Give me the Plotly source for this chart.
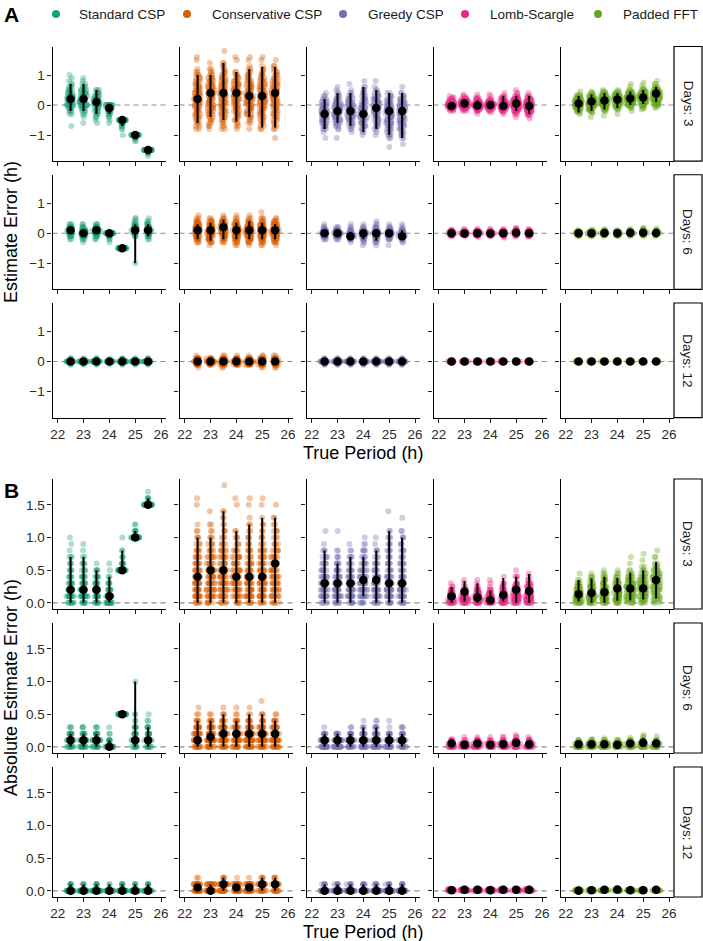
import plotly.graph_objects as go

W, H = 703, 941

# ---------------- data ----------------
periods = [22.5, 23, 23.5, 24, 24.5, 25, 25.5]
methods = ["Standard CSP", "Conservative CSP", "Greedy CSP", "Lomb-Scargle", "Padded FFT"]
colors = ["#1B9E77", "#D95F02", "#7570B3", "#E7298A", "#66A61E"]
days = [3, 6, 12]
x_ticks = [22, 23, 24, 25, 26]
a_ticks = [-1, 0, 1]
b_ticks = [0, 0.5, 1.0, 1.5]
b_ticktext = ["0.0", "0.5", "1.0", "1.5"]


def P(s):
    """value or value*count tokens -> list of observations"""
    out = []
    for tok in s.split():
        if "*" in tok:
            v, n = tok.split("*")
            out += [float(v)] * int(n)
        else:
            out.append(float(tok))
    return out


# signed estimate errors (h), per method -> per days -> per true period
err_standard = [
    ["-0.7 -0.3*2 -0.2*3 -0.1*5 0*8 0.1*8 0.2*8 0.3*6 0.4*5 0.5*4 0.6*3 0.7*2 0.8 0.9 1",
     "-0.6 -0.4 -0.3*2 -0.2*3 -0.1*5 0*7 0.1*8 0.2*8 0.3*6 0.4*5 0.5*4 0.6*3 0.7*2 0.8 0.9",
     "-0.6 -0.5 -0.4*2 -0.3*3 -0.2*4 -0.1*5 0*7 0.1*7 0.2*7 0.3*5 0.4*4 0.5*3",
     "-0.6 -0.5 -0.4*2 -0.3*4 -0.2*8 -0.1*14 0*16",
     "-1 -0.8*2 -0.7*3 -0.6*6 -0.5*30",
     "-1.2*2 -1.1*5 -1*35",
     "-1.7 -1.6*4 -1.5*35"],
    ["-0.2*2 -0.1*5 0*10 0.1*14 0.2*8 0.3*3",
     "-0.3 -0.2*3 -0.1*8 0*14 0.1*10 0.2*4 0.3*2",
     "-0.2*2 -0.1*5 0*10 0.1*14 0.2*8 0.3*3",
     "-0.3 -0.2*2 -0.1*6 0*30",
     "-0.5*40",
     "-1 -0.1*3 0*8 0.1*12 0.2*8 0.3*5 0.4*2 0.5*2",
     "-0.2*2 -0.1*4 0*9 0.1*12 0.2*8 0.3*5 0.4*2 0.5"],
    ["-0.1*2 0*30 0.1*3", "-0.1*2 0*30 0.1*2", "-0.1*2 0*30 0.1*3", "-0.1 0*30 0.1",
     "-0.1*2 0*30 0.1*3", "-0.1*2 0*30 0.1*2", "-0.1*2 0*30 0.1*3"],
]
err_conservative = [
    ["-0.8*2 -0.7*2 -0.6*3 -0.5*3 -0.4*4 -0.3*4 -0.2*5 -0.1*5 0*5 0.1*6 0.2*6 0.3*6 0.4*5 0.5*5 0.6*4 0.7*4 0.8*3 0.9*3 1*3 1.1*2 1.2 1.5 1.6",
     "-0.8 -0.7*2 -0.6*2 -0.5*3 -0.4*3 -0.3*4 -0.2*4 -0.1*5 0*5 0.1*5 0.2*6 0.3*6 0.4*6 0.5*6 0.6*5 0.7*5 0.8*4 0.9*4 1*3 1.1*2 1.2*2 1.4",
     "-0.8*2 -0.7*2 -0.6*2 -0.5*3 -0.4*3 -0.3*4 -0.2*4 -0.1*4 0*5 0.1*5 0.2*5 0.3*6 0.4*6 0.5*5 0.6*5 0.7*5 0.8*4 0.9*4 1*3 1.1*3 1.2*2 1.3*2 1.4*2 1.8",
     "-0.8 -0.7*2 -0.6*2 -0.5*3 -0.4*3 -0.3*4 -0.2*4 -0.1*5 0*5 0.1*5 0.2*6 0.3*6 0.4*6 0.5*6 0.6*5 0.7*5 0.8*4 0.9*3 1*3 1.1*2 1.5 1.6",
     "-0.8 -0.6*2 -0.5*2 -0.4*3 -0.3*4 -0.2*4 -0.1*5 0*5 0.1*6 0.2*6 0.3*6 0.4*6 0.5*5 0.6*5 0.7*4 0.8*4 0.9*3 1*3 1.1*2 1.2*2 1.3 1.5 1.6",
     "-0.8*2 -0.7*2 -0.6*2 -0.5*3 -0.4*3 -0.3*4 -0.2*4 -0.1*5 0*5 0.1*6 0.2*6 0.3*6 0.4*5 0.5*5 0.6*5 0.7*4 0.8*4 0.9*3 1*3 1.1*2 1.2*2 1.3 1.5 1.6",
     "-1.1 -0.8*2 -0.7*2 -0.6*2 -0.5*3 -0.4*3 -0.3*4 -0.2*4 -0.1*4 0*5 0.1*5 0.2*5 0.3*6 0.4*6 0.5*6 0.6*5 0.7*5 0.8*4 0.9*4 1*3 1.1*3 1.2*2 1.3*2 1.5"],
    ["-0.3*3 -0.2*6 -0.1*9 0*12 0.1*14 0.2*12 0.3*9 0.4*5 0.5*2 0.6",
     "-0.4 -0.3*4 -0.2*7 -0.1*10 0*12 0.1*14 0.2*11 0.3*8 0.4*5 0.5*2",
     "-0.3*3 -0.2*5 -0.1*8 0*10 0.1*12 0.2*14 0.3*11 0.4*7 0.5*3 0.6",
     "-0.4*2 -0.3*4 -0.2*7 -0.1*10 0*12 0.1*14 0.2*11 0.3*8 0.4*4 0.5*2 0.6",
     "-0.4 -0.3*4 -0.2*7 -0.1*10 0*12 0.1*14 0.2*11 0.3*8 0.4*5 0.5*2 0.6",
     "-0.4*2 -0.3*4 -0.2*7 -0.1*10 0*12 0.1*14 0.2*11 0.3*8 0.4*4 0.5*3 0.7",
     "-0.4 -0.3*4 -0.2*7 -0.1*10 0*12 0.1*14 0.2*11 0.3*8 0.4*5 0.5*2"],
    ["-0.2 -0.1*10 0*18 0.1*10 0.2",
     "-0.1*8 0*24 0.1*8",
     "-0.2*2 -0.1*12 0*14 0.1*12 0.2*2",
     "-0.1*10 0*20 0.1*10 0.2",
     "-0.1*10 0*20 0.1*10 0.2",
     "-0.2*2 -0.1*12 0*14 0.1*12 0.2*2",
     "-0.2*2 -0.1*12 0*14 0.1*12 0.2*2"],
]
err_greedy = [
    ["-1.1 -0.9 -0.8*3 -0.7*4 -0.6*5 -0.5*6 -0.4*7 -0.3*7 -0.2*7 -0.1*6 0*5 0.1*4 0.2*3 0.3*2 0.4",
     "-1.1 -0.8*2 -0.7*3 -0.6*4 -0.5*5 -0.4*6 -0.3*7 -0.2*7 -0.1*7 0*6 0.1*5 0.2*4 0.3*3 0.4*2 0.5 0.6",
     "-0.9 -0.8*2 -0.7*3 -0.6*4 -0.5*5 -0.4*6 -0.3*7 -0.2*7 -0.1*7 0*6 0.1*5 0.2*4 0.3*3 0.4*2 0.5 0.7",
     "-1 -0.9*2 -0.8*3 -0.7*4 -0.6*5 -0.5*5 -0.4*6 -0.3*7 -0.2*6 -0.1*6 0*5 0.1*4 0.2*4 0.3*3 0.4*3 0.5*2 0.6*2 0.8",
     "-1 -0.9 -0.8*2 -0.7*3 -0.6*4 -0.5*4 -0.4*5 -0.3*5 -0.2*6 -0.1*7 0*6 0.1*6 0.2*5 0.3*4 0.4*3 0.5*2 0.6 0.8",
     "-1.4 -1.1*2 -1*3 -0.9*3 -0.8*4 -0.7*4 -0.6*5 -0.5*5 -0.4*6 -0.3*6 -0.2*7 -0.1*6 0*6 0.1*5 0.2*4 0.3*3 0.4*2",
     "-1.3 -1.1*2 -1*3 -0.9*3 -0.8*4 -0.7*4 -0.6*5 -0.5*5 -0.4*5 -0.3*6 -0.2*7 -0.1*6 0*6 0.1*5 0.2*4 0.3*3 0.4*2 0.6"],
    ["-0.2*3 -0.1*10 0*18 0.1*10 0.2*3 0.3",
     "-0.2*3 -0.1*10 0*18 0.1*10 0.2*3",
     "-0.3 -0.2*6 -0.1*14 0*12 0.1*5 0.2*2 0.3",
     "-0.4 -0.3*2 -0.2*5 -0.1*10 0*14 0.1*8 0.2*3 0.3",
     "-0.4 -0.3*3 -0.2*5 -0.1*10 0*14 0.1*8 0.2*4 0.3*2 0.4",
     "-0.4 -0.2*4 -0.1*10 0*16 0.1*9 0.2*3 0.3",
     "-0.3*2 -0.2*5 -0.1*14 0*12 0.1*6 0.2*2 0.3"],
    ["-0.1*3 0*30 0.1*3"] * 7,
]
err_lomb = [
    ["-0.2*2 -0.15*4 -0.1*6 -0.05*9 0*10 0.05*9 0.1*6 0.15*4 0.2*3 0.25*2 0.3",
     "-0.2*2 -0.15*3 -0.1*5 -0.05*7 0*9 0.05*10 0.1*8 0.15*6 0.2*4 0.25*2 0.3 0.35",
     "-0.3 -0.2*3 -0.15*5 -0.1*7 -0.05*9 0*10 0.05*8 0.1*6 0.15*4 0.2*3 0.25*2 0.35",
     "-0.25 -0.2*2 -0.15*4 -0.1*6 -0.05*9 0*10 0.05*9 0.1*6 0.15*4 0.2*2 0.3 0.35",
     "-0.3 -0.25 -0.2*3 -0.15*5 -0.1*7 -0.05*9 0*9 0.05*7 0.1*6 0.15*5 0.2*4 0.25*3 0.3*2 0.4",
     "-0.4 -0.3*2 -0.25*2 -0.2*4 -0.15*5 -0.1*6 -0.05*7 0*8 0.05*8 0.1*7 0.15*6 0.2*5 0.25*4 0.3*3 0.4*2 0.5",
     "-0.45 -0.35*2 -0.3*3 -0.25*4 -0.2*5 -0.15*6 -0.1*7 -0.05*8 0*8 0.05*7 0.1*6 0.15*5 0.2*4 0.25*3 0.3*2 0.4"],
    ["-0.1*2 -0.05*8 0*14 0.05*10 0.1*3 0.12",
     "-0.1 -0.05*10 0*16 0.05*8 0.1*2 0.15",
     "-0.12 -0.1*2 -0.05*9 0*14 0.05*9 0.1*3 0.15",
     "-0.1*2 -0.05*10 0*15 0.05*8 0.1*2 0.15",
     "-0.15 -0.1*2 -0.05*9 0*14 0.05*9 0.1*3 0.15",
     "-0.1*2 -0.05*7 0*12 0.05*11 0.1*5 0.15*2 0.18",
     "-0.12 -0.1*2 -0.05*9 0*14 0.05*9 0.1*3 0.15"],
    ["-0.03*3 -0.02*6 -0.01*9 0*12 0.01*9 0.02*6 0.03*3"] * 7,
]
err_fft = [
    ["-0.3 -0.25*2 -0.2*3 -0.15*5 -0.1*6 -0.05*8 0*9 0.05*9 0.1*8 0.15*7 0.2*6 0.25*5 0.3*3 0.35*2 0.45",
     "-0.4 -0.25*2 -0.2*3 -0.15*4 -0.1*5 -0.05*6 0*8 0.05*8 0.1*9 0.15*8 0.2*7 0.25*6 0.3*4 0.35*3 0.4*2 0.45",
     "-0.35 -0.2*2 -0.15*3 -0.1*4 -0.05*5 0*6 0.05*7 0.1*8 0.15*9 0.2*8 0.25*7 0.3*6 0.35*4 0.4*3 0.45*2 0.5",
     "-0.3 -0.15*2 -0.1*3 -0.05*4 0*6 0.05*7 0.1*8 0.15*9 0.2*9 0.25*8 0.3*7 0.35*5 0.4*3 0.45*2 0.5",
     "-0.2 -0.1*2 -0.05*3 0*5 0.05*6 0.1*7 0.15*8 0.2*9 0.25*9 0.3*8 0.35*6 0.4*5 0.45*3 0.5*2 0.6 0.7",
     "-0.15 -0.1*2 -0.05*2 0*4 0.05*5 0.1*6 0.15*7 0.2*8 0.25*9 0.3*8 0.35*7 0.4*6 0.45*4 0.5*3 0.55*2 0.65 0.75",
     "-0.1 -0.05*2 0*3 0.05*4 0.1*5 0.15*6 0.2*7 0.25*8 0.3*8 0.35*9 0.4*8 0.45*7 0.5*6 0.55*4 0.6*3 0.7*2 0.8"],
    ["-0.1*2 -0.05*9 0*14 0.05*9 0.1*2",
     "-0.1*2 -0.05*9 0*14 0.05*9 0.1*2 0.12",
     "-0.1 -0.05*8 0*14 0.05*10 0.1*3 0.13",
     "-0.1*2 -0.05*9 0*15 0.05*9 0.1*2",
     "-0.1 -0.05*7 0*13 0.05*11 0.1*4 0.14",
     "-0.1 -0.05*6 0*12 0.05*11 0.1*5 0.15*2 0.18",
     "-0.1 -0.05*7 0*13 0.05*11 0.1*4 0.16"],
    ["-0.02*4 -0.01*8 0*12 0.01*9 0.02*5 0.03*2"] * 7,
]
errors = [err_standard, err_conservative, err_greedy, err_lomb, err_fft]

# panel A summaries: median and interval (signed error)
A_median = [
    [[0.2, 0.2, 0.1, -0.1, -0.5, -1.0, -1.5], [0.1, 0, 0.1, 0, -0.5, 0.1, 0.1], [0, 0, 0, 0, 0, 0, 0]],
    [[0.2, 0.4, 0.4, 0.4, 0.3, 0.3, 0.4], [0.1, 0.1, 0.2, 0.1, 0.1, 0.1, 0.1], [0, 0, 0, 0, 0, 0, 0]],
    [[-0.3, -0.2, -0.2, -0.3, -0.1, -0.2, -0.2], [0, 0, -0.1, 0, 0, 0, -0.1], [0, 0, 0, 0, 0, 0, 0]],
    [[-0.03, 0.05, -0.02, 0, -0.03, 0.05, -0.03], [0, -0.01, 0, -0.01, 0, 0.02, 0], [0, 0, 0, 0, 0, 0, 0]],
    [[0.05, 0.12, 0.15, 0.18, 0.22, 0.25, 0.38], [0, 0, 0.01, 0, 0.02, 0.02, 0.01], [0, 0, 0, 0, 0, 0, 0]],
]
A_low = [
    [[-0.2, -0.2, -0.3, -0.3, -0.7, -1.1, -1.6], [0, -0.1, 0, -0.1, -0.5, -1.0, -0.1], [0, 0, 0, 0, 0, 0, 0]],
    [[-0.6, -0.4, -0.5, -0.55, -0.4, -0.75, -0.75], [-0.2, -0.25, -0.2, -0.2, -0.2, -0.2, -0.2], [0, 0, 0, 0, 0, 0, 0]],
    [[-0.8, -0.6, -0.7, -0.9, -0.8, -1.0, -1.1], [-0.1, -0.1, -0.2, -0.2, -0.25, -0.1, -0.2], [0, 0, 0, 0, 0, 0, 0]],
    [[-0.1, -0.1, -0.15, -0.1, -0.1, -0.2, -0.3], [-0.05, -0.05, -0.05, -0.05, -0.05, -0.05, -0.05], [0, 0, 0, 0, 0, 0, 0]],
    [[-0.25, -0.2, -0.15, -0.1, 0, 0.03, 0.1], [-0.05, -0.05, -0.05, -0.05, -0.05, -0.05, -0.05], [0, 0, 0, 0, 0, 0, 0]],
]
A_high = [
    [[0.7, 0.7, 0.5, 0, -0.5, -1.0, -1.5], [0.2, 0.1, 0.2, 0, -0.5, 0.3, 0.3], [0, 0, 0, 0, 0, 0, 0]],
    [[1.0, 1.0, 1.4, 1.1, 1.2, 1.27, 1.27], [0.3, 0.35, 0.45, 0.35, 0.4, 0.35, 0.3], [0, 0, 0.1, 0, 0, 0.1, 0]],
    [[0.2, 0.4, 0.4, 0.6, 0.5, 0.4, 0.4], [0.1, 0.1, 0.05, 0.1, 0.1, 0.1, 0.1], [0, 0, 0, 0, 0, 0, 0]],
    [[0.1, 0.2, 0.15, 0.1, 0.3, 0.3, 0.3], [0.05, 0.05, 0.05, 0.05, 0.05, 0.05, 0.05], [0, 0, 0, 0, 0, 0, 0]],
    [[0.3, 0.35, 0.4, 0.4, 0.45, 0.5, 0.6], [0.05, 0.05, 0.05, 0.05, 0.05, 0.05, 0.05], [0, 0, 0, 0, 0, 0, 0]],
]
# panel B summaries: median and interval (absolute error)
B_median = [
    [[0.2, 0.2, 0.2, 0.1, 0.5, 1.0, 1.5], [0.1, 0.1, 0.1, 0.0, 0.5, 0.1, 0.1], [0, 0, 0, 0, 0, 0, 0]],
    [[0.4, 0.5, 0.5, 0.4, 0.4, 0.4, 0.6], [0.1, 0.15, 0.2, 0.2, 0.2, 0.2, 0.2], [0.05, 0, 0.1, 0.05, 0.05, 0.1, 0.1]],
    [[0.3, 0.3, 0.3, 0.35, 0.35, 0.3, 0.3], [0.1, 0.1, 0.1, 0.1, 0.1, 0.1, 0.1], [0, 0, 0, 0, 0, 0, 0]],
    [[0.1, 0.17, 0.08, 0.04, 0.12, 0.2, 0.18], [0.05, 0.03, 0.05, 0.03, 0.04, 0.06, 0.04], [0.01, 0.015, 0.015, 0.01, 0.015, 0.015, 0.015]],
    [[0.13, 0.15, 0.16, 0.22, 0.22, 0.22, 0.35], [0.04, 0.04, 0.04, 0.03, 0.05, 0.06, 0.05], [0, 0.01, 0.015, 0.02, 0.01, 0.01, 0.015]],
]
B_low = [
    [[0, 0, 0, 0, 0.5, 1.0, 1.5], [0, 0, 0, 0, 0.5, 0, 0], [0, 0, 0, 0, 0, 0, 0]],
    [[0, 0, 0, 0, 0, 0, 0], [0, 0, 0, 0, 0, 0, 0], [0, 0, 0, 0, 0, 0, 0]],
    [[0, 0, 0, 0.1, 0, 0, 0], [0, 0, 0, 0, 0, 0, 0], [0, 0, 0, 0, 0, 0, 0]],
    [[0, 0.02, 0, 0, 0.02, 0, 0], [0.01, 0.01, 0.01, 0.01, 0.01, 0.01, 0.01], [0, 0, 0, 0, 0, 0, 0]],
    [[0.02, 0, 0, 0.03, 0.04, 0.05, 0.07], [0.01, 0.01, 0.01, 0.01, 0.01, 0.01, 0.01], [0, 0, 0, 0, 0, 0, 0]],
]
B_high = [
    [[0.7, 0.7, 0.5, 0.4, 0.8, 1.1, 1.6], [0.2, 0.2, 0.2, 0.1, 0.5, 1.0, 0.3], [0.1, 0.1, 0.1, 0.1, 0.1, 0.1, 0.1]],
    [[1.0, 1.0, 1.4, 1.1, 1.2, 1.3, 1.3], [0.4, 0.4, 0.5, 0.4, 0.5, 0.5, 0.4], [0.1, 0.1, 0.2, 0.1, 0.1, 0.2, 0.2]],
    [[0.8, 0.6, 0.7, 0.7, 0.8, 1.1, 1.0], [0.2, 0.2, 0.2, 0.3, 0.3, 0.2, 0.2], [0.1, 0.1, 0.1, 0.1, 0.1, 0.1, 0.1]],
    [[0.24, 0.33, 0.3, 0.19, 0.38, 0.4, 0.44], [0.1, 0.09, 0.1, 0.09, 0.1, 0.12, 0.1], [0.03, 0.03, 0.03, 0.03, 0.03, 0.03, 0.03]],
    [[0.35, 0.37, 0.4, 0.38, 0.46, 0.5, 0.62], [0.09, 0.09, 0.1, 0.09, 0.1, 0.13, 0.11], [0.03, 0.03, 0.03, 0.03, 0.03, 0.03, 0.03]],
]

# ---------------- layout geometry (pixels) ----------------
FONT = "Liberation Sans, Arial, sans-serif"
col_left0, col_pitch, col_w = 52.5, 127.0, 113.7
A_top0, A_pitch, A_h = 46.5, 128.25, 114.6
B_top0, B_pitch, B_h = 479.0, 144.0, 130.0
A_range = [-1.87, 1.95]
B_range = [-0.095, 1.895]
strip_x0, strip_x1 = 674.0, 702.0
legend_marker_x = [56, 187, 343, 465, 598]
legend_text_x = [77, 210, 366, 488, 621]
legend_y = 14

fig = go.Figure()
layout = dict(
    width=W, height=H, autosize=False,
    margin=dict(l=0, r=0, t=0, b=0, autoexpand=False),
    paper_bgcolor="white", plot_bgcolor="white",
    font=dict(family=FONT, color="#222"),
    showlegend=False,
)
shapes, annotations = [], []


def xd(px):
    return px / W


def yd(px):
    return 1 - px / H


k = 0
for panel in range(2):
    for r, d in enumerate(days):
        if panel == 0:
            top, h, yr = A_top0 + r * A_pitch, A_h, A_range
        else:
            top, h, yr = B_top0 + r * B_pitch, B_h, B_range
        for c, m in enumerate(methods):
            k += 1
            suffix = "" if k == 1 else str(k)
            xa, ya = "x" + suffix, "y" + suffix
            left = col_left0 + c * col_pitch
            layout["xaxis" + suffix] = dict(
                domain=[xd(left), xd(left + col_w)], range=[21.8, 26.2], anchor=ya,
                tickvals=x_ticks, ticks="outside", ticklen=4, tickwidth=1, tickcolor="#222",
                showline=True, linecolor="black", linewidth=1.1, showgrid=False, zeroline=False,
                showticklabels=(r == 2), tickfont=dict(size=13.5, color="#2b2b2b"), fixedrange=True,
            )
            ydict = dict(
                domain=[yd(top + h), yd(top)], range=yr, anchor=xa,
                ticks="outside", ticklen=4, tickwidth=1, tickcolor="#222",
                showline=True, linecolor="black", linewidth=1.1, showgrid=False, zeroline=False,
                showticklabels=(c == 0), tickfont=dict(size=13.5, color="#2b2b2b"), fixedrange=True,
            )
            if panel == 0:
                ydict.update(tickvals=a_ticks)
            else:
                ydict.update(tickvals=b_ticks, ticktext=b_ticktext)
            layout["yaxis" + suffix] = ydict

            # zero reference line
            shapes.append(dict(type="line", xref=f"{xa} domain", yref=ya, x0=0, x1=1, y0=0, y1=0,
                               line=dict(color="#8c8c8c", width=1.2, dash="5px,4px"), layer="below"))

            # observations
            xs, ys = [], []
            for p, s in zip(periods, errors[c][r]):
                vals = P(s)
                if panel == 1:
                    vals = [abs(v) for v in vals]
                xs += [p] * len(vals)
                ys += vals
            fig.add_trace(go.Box(
                x=xs, y=ys, xaxis=xa, yaxis=ya, boxpoints="all", jitter=0.9, pointpos=0,
                width=0.36, line=dict(width=0, color="rgba(0,0,0,0)"), fillcolor="rgba(0,0,0,0)",
                marker=dict(color=colors[c], opacity=0.35, size=6, line=dict(width=0)),
                showlegend=False, hoveron="points", name=m,
            ))

            # median + interval
            if panel == 0:
                med, lo, hi = A_median[c][r], A_low[c][r], A_high[c][r]
            else:
                med, lo, hi = B_median[c][r], B_low[c][r], B_high[c][r]
            fig.add_trace(go.Scatter(
                x=periods, y=med, xaxis=xa, yaxis=ya, mode="markers",
                marker=dict(color="black", size=8.5),
                error_y=dict(type="data", symmetric=False,
                             array=[hv - mv for hv, mv in zip(hi, med)],
                             arrayminus=[mv - lv for mv, lv in zip(med, lo)],
                             color="black", thickness=2, width=0),
                showlegend=False, hoverinfo="skip",
            ))

        # strip on the right
        shapes.append(dict(type="rect", xref="paper", yref="paper",
                           x0=xd(strip_x0), x1=xd(strip_x1), y0=yd(top + h), y1=yd(top),
                           line=dict(color="black", width=1.2), fillcolor="white"))
        annotations.append(dict(text=f"Days: {d}", xref="paper", yref="paper",
                                x=xd((strip_x0 + strip_x1) / 2), y=yd(top + h / 2),
                                xanchor="center", yanchor="middle",
                                showarrow=False, textangle=90,
                                font=dict(size=13.5, color="#1a1a1a")))

# legend (drawn as layout items so it does not shrink the plotting area)
for m, col, mx, tx in zip(methods, colors, legend_marker_x, legend_text_x):
    shapes.append(dict(type="circle", xref="paper", yref="paper",
                       x0=xd(mx - 4), x1=xd(mx + 4), y0=yd(legend_y + 4), y1=yd(legend_y - 4),
                       line=dict(width=0), fillcolor=col))
    annotations.append(dict(text=m, xref="paper", yref="paper", x=xd(tx), y=yd(legend_y),
                            xanchor="left", yanchor="middle", showarrow=False,
                            font=dict(size=13.5, color="#1a1a1a")))

grid_cx = xd((col_left0 + col_left0 + 4 * col_pitch + col_w) / 2)
A_bottom = A_top0 + 2 * A_pitch + A_h
B_bottom = B_top0 + 2 * B_pitch + B_h
annotations += [
    dict(text="<b>A</b>", xref="paper", yref="paper", x=xd(2), y=yd(15), xanchor="left",
         yanchor="middle", showarrow=False, font=dict(size=21, color="black")),
    dict(text="<b>B</b>", xref="paper", yref="paper", x=xd(2), y=yd(490), xanchor="left",
         yanchor="middle", showarrow=False, font=dict(size=21, color="black")),
    dict(text="True Period (h)", xref="paper", yref="paper", x=grid_cx, y=yd(A_bottom + 35),
         xanchor="center", yanchor="middle", showarrow=False, font=dict(size=18, color="black")),
    dict(text="True Period (h)", xref="paper", yref="paper", x=grid_cx, y=yd(B_bottom + 35),
         xanchor="center", yanchor="middle", showarrow=False, font=dict(size=18, color="black")),
    dict(text="Estimate Error (h)", xref="paper", yref="paper", x=xd(11),
         y=yd((A_top0 + A_bottom) / 2), xanchor="center", yanchor="middle",
         showarrow=False, textangle=-90, font=dict(size=18, color="black")),
    dict(text="Absolute Estimate Error (h)", xref="paper", yref="paper", x=xd(11),
         y=yd((B_top0 + B_bottom) / 2), xanchor="center", yanchor="middle",
         showarrow=False, textangle=-90, font=dict(size=18, color="black")),
]
layout["shapes"] = shapes
layout["annotations"] = annotations
fig.update_layout(**layout)
fig.write_html("out.html", config={"displayModeBar": False},
               post_script="document.body.style.margin='0px';")
